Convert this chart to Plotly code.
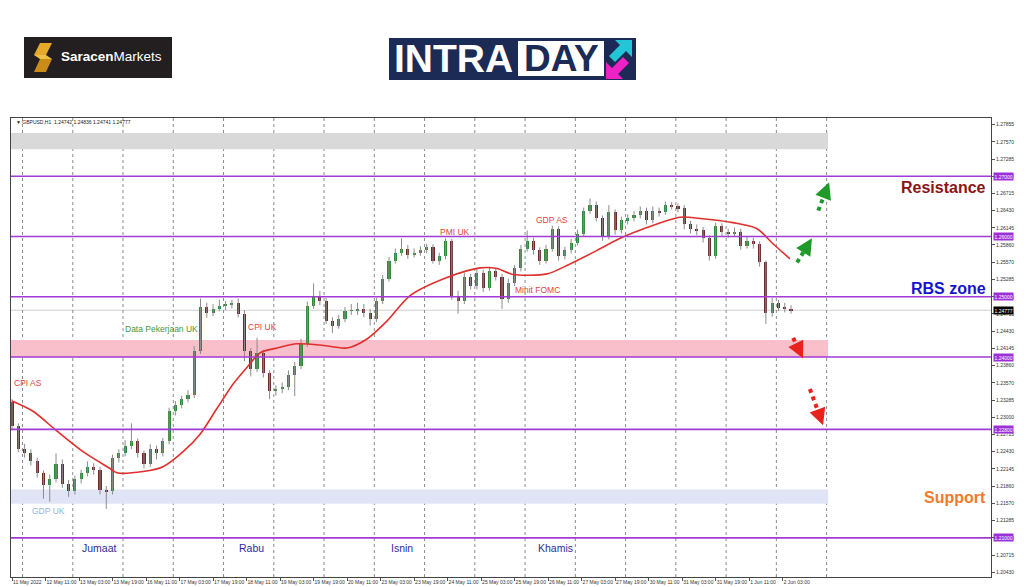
import plotly.graph_objects as go

W, H = 1024, 587

# ---------------- data ----------------
symbol_header = "\u25bc GBPUSD,H1  1.24742 1.24836 1.24741 1.24777"
hours_per_candle = 3
first_open = 1.2325

closes = [1.2285, 1.2248, 1.2240, 1.2227, 1.2207, 1.2188, 1.2197, 1.2223, 1.2190, 1.2177,
          1.2197, 1.2207, 1.2217, 1.2213, 1.2180, 1.2177, 1.2232, 1.2240, 1.2253, 1.2260,
          1.2240, 1.2222, 1.2247, 1.2240, 1.2260, 1.2310, 1.2320, 1.2330, 1.2337, 1.2410,
          1.2483, 1.2473, 1.2480, 1.2485, 1.2487, 1.2490, 1.2472, 1.2410, 1.2380, 1.2407,
          1.2373, 1.2343, 1.2347, 1.2350, 1.2370, 1.2385, 1.2422, 1.2485, 1.2502, 1.2493,
          1.2460, 1.2452, 1.2463, 1.2477, 1.2477, 1.2480, 1.2473, 1.2463, 1.2493, 1.2530,
          1.2560, 1.2573, 1.2580, 1.2570, 1.2573, 1.2577, 1.2582, 1.2560, 1.2567, 1.2592,
          1.2502, 1.2493, 1.2533, 1.2518, 1.2540, 1.2515, 1.2543, 1.2533, 1.2497, 1.2523,
          1.2547, 1.2580, 1.2593, 1.2577, 1.2560, 1.2580, 1.2613, 1.2567, 1.2577, 1.2590,
          1.2605, 1.2643, 1.2653, 1.2630, 1.2600, 1.2640, 1.2610, 1.2627, 1.2630, 1.2635,
          1.2643, 1.2627, 1.2643, 1.2640, 1.2653, 1.2650, 1.2647, 1.2620, 1.2613, 1.2610,
          1.2597, 1.2568, 1.2617, 1.2607, 1.2605, 1.2608, 1.2585, 1.2593, 1.2587, 1.2557,
          1.2473, 1.2490, 1.2482, 1.2480, 1.24777]

highs = [1.2330, 1.2290, 1.2256, 1.2247, 1.2233, 1.2212, 1.2205, 1.2240, 1.2230, 1.2196,
         1.2203, 1.2213, 1.2227, 1.2224, 1.2218, 1.2186, 1.2238, 1.2247, 1.2262, 1.2290,
         1.2265, 1.2245, 1.2255, 1.2253, 1.2266, 1.2316, 1.2327, 1.2336, 1.2345, 1.2418,
         1.2497, 1.2490, 1.2488, 1.2495, 1.2493, 1.2495, 1.2497, 1.2478, 1.2415, 1.2432,
         1.2412, 1.2378, 1.2353, 1.2358, 1.2378, 1.2392, 1.2430, 1.2492, 1.2522, 1.2510,
         1.2498, 1.2466, 1.2470, 1.2483, 1.2488, 1.2490, 1.2488, 1.2480, 1.2498, 1.2536,
         1.2566, 1.2580, 1.2597, 1.2586, 1.2580, 1.2584, 1.2588, 1.2587, 1.2573, 1.2597,
         1.2596, 1.2510, 1.2540, 1.2538, 1.2546, 1.2545, 1.2550, 1.2548, 1.2538, 1.2530,
         1.2553, 1.2586, 1.2610, 1.2598, 1.2582, 1.2586, 1.2618, 1.2617, 1.2583, 1.2596,
         1.2611, 1.2648, 1.2663, 1.2658, 1.2635, 1.2652, 1.2645, 1.2633, 1.2637, 1.2642,
         1.2650, 1.2648, 1.2650, 1.2648, 1.2658, 1.2657, 1.2655, 1.2652, 1.2626, 1.2620,
         1.2616, 1.2602, 1.2623, 1.2622, 1.2613, 1.2615, 1.2613, 1.2600, 1.2598, 1.2592,
         1.2560, 1.2498, 1.2495, 1.2490, 1.2486]

lows = [1.2278, 1.2242, 1.2233, 1.2220, 1.2200, 1.2165, 1.2160, 1.2192, 1.2183, 1.2168,
        1.2172, 1.2190, 1.2202, 1.2205, 1.2172, 1.2148, 1.2172, 1.2225, 1.2235, 1.2247,
        1.2233, 1.2215, 1.2218, 1.2230, 1.2235, 1.2255, 1.2303, 1.2315, 1.2325, 1.2332,
        1.2405, 1.2465, 1.2468, 1.2476, 1.2478, 1.2481, 1.2466, 1.2393, 1.2368, 1.2375,
        1.2366, 1.2330, 1.2336, 1.2340, 1.2345, 1.2335, 1.2380, 1.2417, 1.2480, 1.2486,
        1.2455, 1.2440, 1.2447, 1.2458, 1.2470, 1.2470, 1.2466, 1.2452, 1.2458, 1.2488,
        1.2525, 1.2555, 1.2568, 1.2563, 1.2565, 1.2568, 1.2572, 1.2555, 1.2553, 1.2562,
        1.2495, 1.2472, 1.2488, 1.2512, 1.2512, 1.2508, 1.2510, 1.2527, 1.2480, 1.2490,
        1.2518, 1.2542, 1.2575, 1.2570, 1.2553, 1.2555, 1.2575, 1.2560, 1.2562, 1.2572,
        1.2585, 1.2600, 1.2638, 1.2625, 1.2593, 1.2595, 1.2603, 1.2605, 1.2620, 1.2625,
        1.2630, 1.2620, 1.2622, 1.2633, 1.2636, 1.2645, 1.2640, 1.2612, 1.2605, 1.2602,
        1.2590, 1.2560, 1.2563, 1.2600, 1.2598, 1.2600, 1.2578, 1.2580, 1.2580, 1.2550,
        1.2455, 1.2467, 1.2476, 1.2474, 1.2472]

# moving average (bar index, price)
ma_bars = [0, 10, 21.5, 33.9, 46.8, 50.1, 62.6, 72.1, 81.7, 89.8, 97.9, 105.5, 112.7, 118.4,
           126.6, 136.1, 147.1, 160, 169.5, 179.1, 190.1, 207.7, 223.5, 231.6, 239.3, 255.5,
           265, 279.4, 290.4, 303.2, 319, 328.6, 344.3, 355.8, 363.4, 371.5]
ma_vals = [1.2327, 1.2310, 1.2277, 1.2243, 1.2215, 1.2208, 1.2210, 1.2218, 1.2243, 1.2272,
           1.2315, 1.2355, 1.2385, 1.2407, 1.2415, 1.2422, 1.2420, 1.2415, 1.2430, 1.2460,
           1.2502, 1.2532, 1.2548, 1.2547, 1.2537, 1.2538, 1.2552, 1.2577, 1.2597, 1.2615,
           1.2632, 1.2630, 1.2623, 1.2613, 1.2588, 1.2563]

time_labels = ['11 May 2022', '12 May 11:00', '13 May 03:00', '13 May 19:00', '16 May 11:00',
               '17 May 03:00', '17 May 19:00', '18 May 11:00', '19 May 03:00', '19 May 19:00',
               '20 May 11:00', '23 May 03:00', '23 May 19:00', '24 May 11:00', '25 May 03:00',
               '25 May 19:00', '26 May 11:00', '27 May 03:00', '27 May 19:00', '30 May 11:00',
               '31 May 03:00', '31 May 19:00', '1 Jun 11:00', '2 Jun 03:00']
label_every_bars = 16

price_ticks = [1.20430, 1.20715, 1.21000, 1.21285, 1.21570, 1.21860, 1.22145, 1.22430,
               1.22715, 1.23000, 1.23285, 1.23570, 1.23860, 1.24145, 1.24430, 1.24715,
               1.25000, 1.25285, 1.25570, 1.25860, 1.26145, 1.26430, 1.26715, 1.27000,
               1.27285, 1.27570, 1.27855]

levels = [1.27000, 1.26000, 1.25000, 1.24000, 1.22800, 1.21000]
last_price = 1.24777

grey_zone = (1.27450, 1.27717)
pink_zone = (1.24000, 1.24283)
blue_zone = (1.21567, 1.21800)
zone_end_bar = 389.7

events = [  # text, bar, price, colour
    ("CPI AS", 0, 1.2357, "#e2443c"),
    ("GDP UK", 8.6, 1.2145, "#93b4e0"),
    ("Data Pekerjaan UK", 53, 1.2447, "#3f9a3f"),
    ("CPI UK", 111.7, 1.2450, "#e2443c"),
    ("PMI UK", 203.4, 1.2608, "#e2443c"),
    ("GDP AS", 249.3, 1.2627, "#e2443c"),
    ("Minit FOMC", 239.3, 1.2512, "#e2443c"),
]
days = [("Jumaat", 32.5), ("Rabu", 107.4), ("Isnin", 180), ("Khamis", 250.2)]
day_price = 1.20833

arrows = [  # bar0, price0, bar1, price1, colour
    (374.9, 1.2557, 382.0, 1.2597, "#1e9a28"),
    (385.0, 1.2643, 390.2, 1.2690, "#1e9a28"),
    (373.0, 1.2432, 377.7, 1.2398, "#e8221c"),
    (381.0, 1.2347, 387.3, 1.2287, "#e8221c"),
]

# ---------------- geometry helpers (pixels -> paper) ----------------
def px(x):
    return x / W


def py(y):
    return 1 - y / H


X_DOM = [px(11), px(991)]
Y_DOM = [py(577), py(118)]
FONT = "Liberation Sans"
UP_COL, DOWN_COL = "#2f8a3a", "#6e2b2b"

xs = [hours_per_candle * j for j in range(len(closes))]
opens = [first_open] + closes[:-1]

fig = go.Figure()

# wicks
wx, wy = [], []
for x, h, l in zip(xs, highs, lows):
    wx += [x, x, None]
    wy += [h, l, None]
fig.add_trace(go.Scatter(x=wx, y=wy, mode="lines", line=dict(color="#8c8c8c", width=1),
                         hoverinfo="skip", showlegend=False))

# bodies (thin bars between open and close)
fig.add_trace(go.Bar(
    x=xs, y=[max(abs(c - o), 0.00004) for o, c in zip(opens, closes)],
    base=[min(o, c) for o, c in zip(opens, closes)], width=1.5,
    marker=dict(color=[UP_COL if c >= o else DOWN_COL for o, c in zip(opens, closes)], line=dict(width=0)),
    hoverinfo="skip", showlegend=False))

# moving average
fig.add_trace(go.Scatter(x=ma_bars, y=ma_vals, mode="lines",
                         line=dict(color="#e0302c", width=1.6, shape="spline", smoothing=0.8),
                         hoverinfo="skip", showlegend=False))

# dashed arrow shafts
for b0, p0, b1, p1, col in arrows:
    fig.add_trace(go.Scatter(x=[b0, b0 + (b1 - b0) * 0.62], y=[p0, p0 + (p1 - p0) * 0.62],
                             mode="lines", line=dict(color=col, width=4, dash="4px,4px"),
                             hoverinfo="skip", showlegend=False))

shapes = []
# zones
for (lo, hi), col in [(grey_zone, "#d9d9d9"), (pink_zone, "#f9bfcb"), (blue_zone, "#e0e4f6")]:
    shapes.append(dict(type="rect", xref="x", yref="y", x0=-0.5, x1=zone_end_bar, y0=lo, y1=hi,
                       fillcolor=col, line=dict(width=0), layer="below"))
# current price line
shapes.append(dict(type="line", xref="paper", yref="y", x0=X_DOM[0], x1=X_DOM[1],
                   y0=last_price, y1=last_price, line=dict(color="#cfcfcf", width=1), layer="below"))
# vertical dotted grid (one per 24 bars)
for k in range(17):
    gx = 5 + 24 * k
    shapes.append(dict(type="line", xref="x", yref="paper", x0=gx, x1=gx, y0=Y_DOM[0], y1=Y_DOM[1],
                       line=dict(color="#8a8a8a", width=1, dash="dot"), layer="below"))
# purple levels
for lv in levels:
    shapes.append(dict(type="line", xref="paper", yref="y", x0=X_DOM[0], x1=X_DOM[1], y0=lv, y1=lv,
                       line=dict(color="#a23ad6", width=1.6), layer="above"))

# logos
shapes.append(dict(type="rect", xref="paper", yref="paper", x0=px(24), x1=px(172), y0=py(78), y1=py(37),
                   fillcolor="#231f20", line=dict(width=0)))
shapes.append(dict(type="rect", xref="paper", yref="paper", x0=px(389), x1=px(636), y0=py(80), y1=py(38),
                   fillcolor="#1b2b55", line=dict(width=0)))
shapes.append(dict(type="rect", xref="paper", yref="paper", x0=px(518), x1=px(604), y0=py(76), y1=py(41),
                   fillcolor="#ffffff", line=dict(width=0)))


def poly(points, color):
    d = "M " + " L ".join(f"{px(a):.5f},{py(b):.5f}" for a, b in points) + " Z"
    return dict(type="path", xref="paper", yref="paper", path=d, fillcolor=color, line=dict(width=0))


shapes.append(poly([(632, 40), (632, 57), (626, 51), (615, 62), (609, 56), (620, 45), (615, 40)], "#22c6d6"))
shapes.append(poly([(606, 79), (606, 62), (612, 68), (623, 57), (629, 63), (618, 74), (623, 79)], "#ee22c4"))
# Saracen "S" mark
shapes.append(poly([(40, 43), (52, 43), (46, 55), (34, 55)], "#e7a92a"))
shapes.append(poly([(40, 59), (52, 59), (46, 72), (34, 72)], "#c98c16"))
shapes.append(poly([(34, 55), (46, 55), (52, 59), (40, 59)], "#f0c040"))

annotations = []
# header text
annotations.append(dict(xref="paper", yref="paper", x=px(14), y=py(122), xanchor="left", yanchor="middle",
                        text=symbol_header, showarrow=False, font=dict(size=5, color="#222", family=FONT)))
# event labels
for t, b, p, col in events:
    annotations.append(dict(xref="x", yref="y", x=b, y=p, xanchor="left", yanchor="middle", text=t,
                            showarrow=False, font=dict(size=8.5, color=col, family=FONT)))
for t, b in days:
    annotations.append(dict(xref="x", yref="y", x=b, y=day_price, xanchor="left", yanchor="middle", text=t,
                            showarrow=False, font=dict(size=10.5, color="#2d2d9e", family=FONT)))
# zone titles
for t, p, col in [("Resistance", 1.26817, "#8b1414"), ("RBS zone", 1.25133, "#1414d0"),
                  ("Support", 1.21667, "#f07a2e")]:
    annotations.append(dict(xref="paper", yref="y", x=px(988), y=p, xanchor="right", yanchor="middle",
                            text=f"<b>{t}</b>", showarrow=False, font=dict(size=16, color=col, family=FONT)))
# arrow heads
for b0, p0, b1, p1, col in arrows:
    annotations.append(dict(xref="x", yref="y", axref="x", ayref="y", x=b1, y=p1,
                            ax=b0 + (b1 - b0) * 0.72, ay=p0 + (p1 - p0) * 0.72, text="", showarrow=True,
                            arrowhead=2, arrowsize=1.1, arrowwidth=3, arrowcolor=col))
# level labels on the price axis
for lv in levels:
    annotations.append(dict(xref="paper", yref="y", x=X_DOM[1], y=lv, xanchor="left", yanchor="middle",
                            xshift=2, text=f"{lv:.5f}", showarrow=False, bgcolor="#9b30d9", borderpad=0.5,
                            font=dict(size=5, color="#ffffff", family=FONT)))
annotations.append(dict(xref="paper", yref="y", x=X_DOM[1], y=last_price, xanchor="left", yanchor="middle",
                        xshift=2, text=f"{last_price:.5f}", showarrow=False, bgcolor="#000000", borderpad=0.5,
                        font=dict(size=5, color="#ffffff", family=FONT)))
# logo texts
annotations.append(dict(xref="paper", yref="paper", x=px(59), y=py(57), xanchor="left", yanchor="middle",
                        text="<b>Saracen</b>Markets", showarrow=False,
                        font=dict(size=13.5, color="#ffffff", family=FONT)))
annotations.append(dict(xref="paper", yref="paper", x=px(392), y=py(59), xanchor="left", yanchor="middle",
                        text="<b>INTRA</b>", showarrow=False, font=dict(size=39, color="#ffffff", family=FONT)))
annotations.append(dict(xref="paper", yref="paper", x=px(561), y=py(59), xanchor="center", yanchor="middle",
                        text="<b>DAY</b>", showarrow=False, font=dict(size=37, color="#1b2b55", family=FONT)))

fig.update_layout(
    width=W, height=H, margin=dict(l=0, r=0, t=0, b=0),
    paper_bgcolor="white", plot_bgcolor="white", bargap=0,
    shapes=shapes, annotations=annotations, showlegend=False,
    xaxis=dict(domain=X_DOM, range=[-0.5, 467.5],
               tickvals=[label_every_bars * k for k in range(len(time_labels))], ticktext=time_labels,
               ticklabelposition="outside right", tickangle=0, ticks="outside", ticklen=3, tickcolor="#555",
               tickfont=dict(size=5, color="#333", family=FONT), showgrid=False, zeroline=False,
               showline=True, linecolor="#444", linewidth=1, mirror=True),
    yaxis=dict(domain=Y_DOM, range=[1.2035, 1.279667], side="right",
               tickvals=price_ticks, ticktext=[f"{v:.5f}" for v in price_ticks],
               ticks="outside", ticklen=3, tickcolor="#555",
               tickfont=dict(size=5, color="#333", family=FONT), showgrid=False, zeroline=False,
               showline=True, linecolor="#444", linewidth=1, mirror=True),
)

fig.write_html("out.html", config={"displayModeBar": False},
               post_script="document.body.style.margin='0';document.body.style.padding='0';"
                           "document.body.style.overflow='hidden';")
